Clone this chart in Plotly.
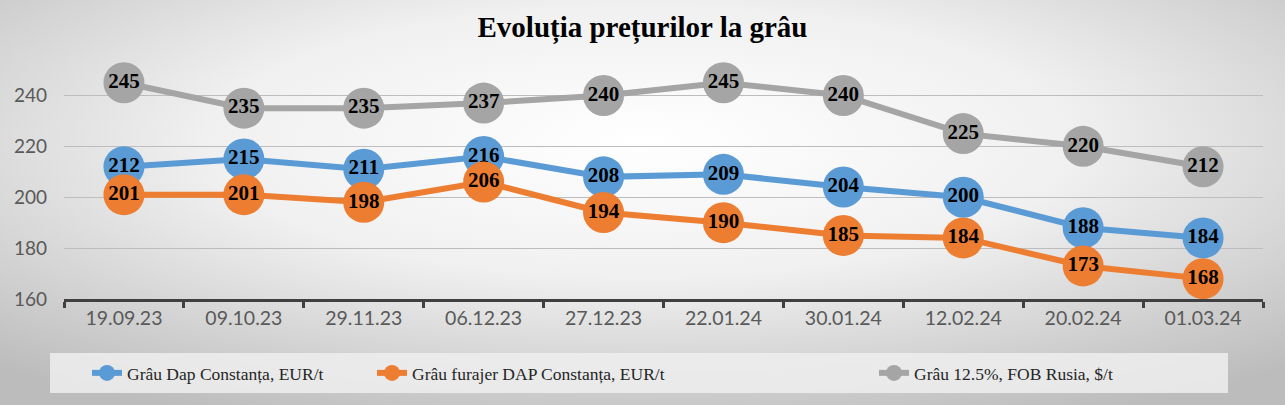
import base64
import plotly.graph_objects as go

# data
dates = ["19.09.23", "09.10.23", "29.11.23", "06.12.23", "27.12.23",
         "22.01.24", "30.01.24", "12.02.24", "20.02.24", "01.03.24"]
grau_dap = [212, 215, 211, 216, 208, 209, 204, 200, 188, 184]
grau_furajer = [201, 201, 198, 206, 194, 190, 185, 184, 173, 168]
grau_rusia = [245, 235, 235, 237, 240, 245, 240, 225, 220, 212]

series = [
    ("Grâu Dap Constanța, EUR/t", grau_dap, "#5b9bd5", "legend", 87),
    ("Grâu furajer DAP Constanța, EUR/t", grau_furajer, "#ed7d31", "legend2", 372),
    ("Grâu 12.5%, FOB Rusia, $/t", grau_rusia, "#a5a5a5", "legend3", 874),
]

W, H = 1285, 405
ml, mr, mt, mb = 64, 22, 70, 106
pw, ph = W - ml - mr, H - mt - mb

# radial gray background, like the office chart style
svg = f"""<svg xmlns="http://www.w3.org/2000/svg" width="{W}" height="{H}" preserveAspectRatio="none">
<defs><radialGradient id="g" cx="0.5" cy="0.35" r="0.75">
<stop offset="0" stop-color="#ffffff"/><stop offset="0.45" stop-color="#f0f0f0"/>
<stop offset="1" stop-color="#bcbcbc"/></radialGradient></defs>
<rect width="{W}" height="{H}" fill="url(#g)"/></svg>"""
bg_src = "data:image/svg+xml;base64," + base64.b64encode(svg.encode()).decode()

fig = go.Figure()
legends = {}
for name, vals, col, leg, lx in series:
    fig.add_trace(go.Scatter(
        x=dates, y=vals, name=name, mode="lines+markers+text", legend=leg,
        line=dict(color=col, width=6),
        marker=dict(color=col, size=41),
        text=[str(v) for v in vals], textposition="middle center",
        textfont=dict(family="Liberation Serif", size=21, color="black", weight="bold"),
        cliponaxis=False,
    ))
    legends[leg] = dict(orientation="h", xref="container", yref="container",
                        x=lx / W, xanchor="left", y=1 - 373 / H, yanchor="middle",
                        bgcolor="rgba(0,0,0,0)",
                        font=dict(family="Liberation Serif", size=17.5, color="#262626"))

fig.add_layout_image(dict(
    source=bg_src, xref="paper", yref="paper",
    x=-ml / pw, y=1 + mt / ph, sizex=W / pw, sizey=H / ph,
    xanchor="left", yanchor="top", sizing="stretch", layer="below",
))

# legend box
fig.add_shape(type="rect", xref="paper", yref="paper",
              x0=(50 - ml) / pw, x1=(1228 - ml) / pw,
              y0=(299 - 393) / ph, y1=(299 - 353) / ph,
              fillcolor="rgba(238,238,238,0.85)", line=dict(width=0), layer="below")

fig.update_layout(
    width=W, height=H,
    margin=dict(l=ml, r=mr, t=mt, b=mb, autoexpand=False),
    paper_bgcolor="rgba(0,0,0,0)", plot_bgcolor="rgba(0,0,0,0)",
    title=dict(text="<b>Evoluția prețurilor la grâu</b>", x=0.5, xanchor="center",
               y=1 - 27 / H, yanchor="middle",
               font=dict(family="Liberation Serif", size=29, color="black")),
    showlegend=True,
    xaxis=dict(type="category", range=[-0.5, 9.5], tickson="boundaries", showgrid=False,
               automargin=False,
               showline=True, linecolor="#404040", linewidth=3,
               ticks="outside", ticklen=6, tickwidth=3, tickcolor="#404040",
               tickfont=dict(family="Lato", size=19.5, color="#595959")),
    yaxis=dict(range=[160, 250], dtick=20, tick0=160, showline=False, zeroline=False,
               automargin=False, ticklabelstandoff=16,
               gridcolor="#bdbdbd", gridwidth=1, ticks="",
               tickfont=dict(family="Lato", size=19, color="#595959")),
    **legends,
)

# page body has a default 8px margin; drop it so the figure sits at 0,0
fig.write_html("out.html", config={"displayModeBar": False},
               post_script="document.body.style.margin='0';")
